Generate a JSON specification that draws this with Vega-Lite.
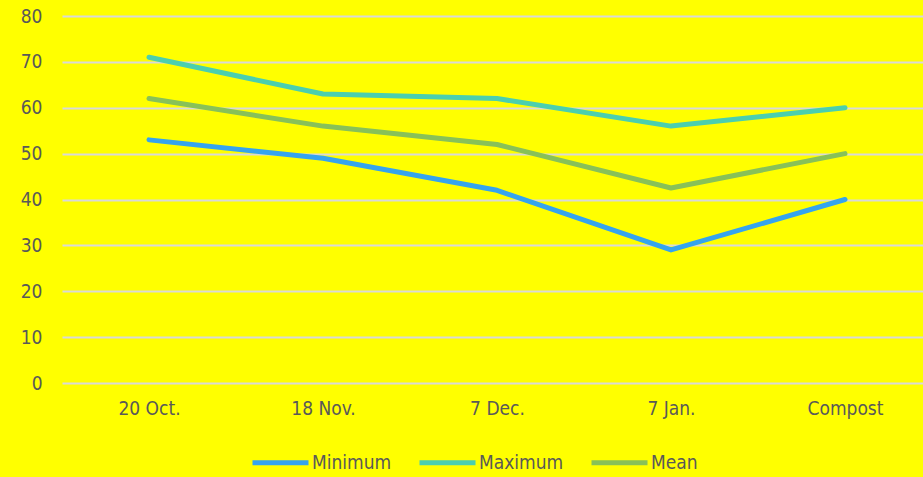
{
  "$schema": "https://vega.github.io/schema/vega-lite/v6.json",
  "autosize": "none",
  "width": 870,
  "height": 367,
  "padding": {"left": 62, "top": 16, "right": 0, "bottom": 94},
  "background": "#FFFF00",
  "config": {
    "view": {"stroke": null},
    "font": "DejaVu Sans Condensed",
    "axis": {"labelColor": "#595959", "labelFontSize": 19, "gridColor": "#D9D9D9", "gridWidth": 1.8}
  },
  "data": {
    "values": [
      {"date": "20 Oct.", "series": "Minimum", "value": 53},
      {"date": "18 Nov.", "series": "Minimum", "value": 49},
      {"date": "7 Dec.", "series": "Minimum", "value": 42},
      {"date": "7 Jan.", "series": "Minimum", "value": 29},
      {"date": "Compost", "series": "Minimum", "value": 40},
      {"date": "20 Oct.", "series": "Maximum", "value": 71},
      {"date": "18 Nov.", "series": "Maximum", "value": 63},
      {"date": "7 Dec.", "series": "Maximum", "value": 62},
      {"date": "7 Jan.", "series": "Maximum", "value": 56},
      {"date": "Compost", "series": "Maximum", "value": 60},
      {"date": "20 Oct.", "series": "Mean", "value": 62},
      {"date": "18 Nov.", "series": "Mean", "value": 56},
      {"date": "7 Dec.", "series": "Mean", "value": 52},
      {"date": "7 Jan.", "series": "Mean", "value": 42.5},
      {"date": "Compost", "series": "Mean", "value": 50}
    ]
  },
  "mark": {"type": "line", "strokeWidth": 5, "strokeCap": "round", "strokeJoin": "round"},
  "encoding": {
    "x": {
      "field": "date", "type": "nominal", "sort": null, "title": null,
      "scale": {"paddingOuter": 0.5, "paddingInner": 1},
      "axis": {"labelAngle": 0, "ticks": false, "domain": false, "grid": false, "labelPadding": 16}
    },
    "y": {
      "field": "value", "type": "quantitative", "title": null,
      "scale": {"domain": [0, 80]},
      "axis": {"values": [0,10,20,30,40,50,60,70,80], "labelOverlap": false, "ticks": false, "domain": false, "labelPadding": 20}
    },
    "color": {
      "field": "series", "type": "nominal", "title": null,
      "sort": ["Minimum", "Maximum", "Mean"],
      "scale": {"domain": ["Minimum", "Maximum", "Mean"], "range": ["#35A4EE", "#4BCFAE", "#88C158"]},
      "legend": {
        "orient": "none", "direction": "horizontal", "legendX": 188, "legendY": 416,
        "symbolType": "stroke", "symbolSize": 3136, "symbolStrokeWidth": 5,
        "labelFontSize": 19, "labelColor": "#595959", "labelOffset": 1, "columnPadding": 17
      }
    }
  }
}
